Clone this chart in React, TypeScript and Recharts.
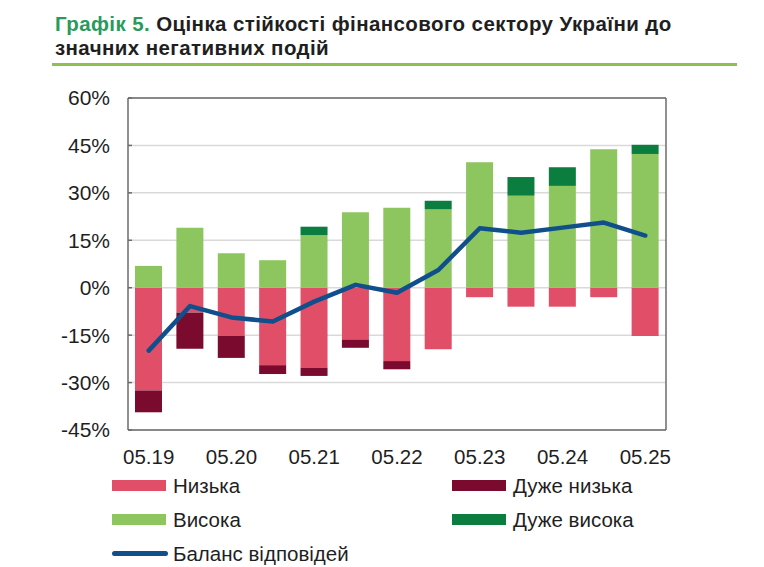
import React from 'react';
import { ComposedChart, Bar, Line, XAxis, YAxis, CartesianGrid, ReferenceLine } from 'recharts';

const categories = ['05.19', '11.19', '05.20', '11.20', '05.21', '11.21', '05.22', '11.22', '05.23', '11.23', '05.24', '11.24', '05.25'];
const low = [-32.5, -7.8, -15.2, -24.5, -25.3, -16.5, -23.2, -19.5, -3.0, -6.0, -6.0, -3.0, -15.3];
const veryLow = [-6.9, -11.5, -7.0, -2.8, -2.6, -2.5, -2.6, 0, 0, 0, 0, 0, 0];
const high = [6.9, 19.0, 10.9, 8.7, 16.6, 23.9, 25.3, 24.8, 39.7, 29.1, 32.2, 43.8, 42.3];
const veryHigh = [0, 0, 0, 0, 2.7, 0, 0, 2.7, 0, 5.9, 5.9, 0, 2.9];
const balance = [-19.9, -5.8, -9.4, -10.7, -4.4, 0.9, -1.6, 5.6, 18.8, 17.4, 19.0, 20.6, 16.5];
const yTicks = [-45, -30, -15, 0, 15, 30, 45, 60];

const seriesNames = {
  low: 'Низька',
  veryLow: 'Дуже низька',
  high: 'Висока',
  veryHigh: 'Дуже висока',
  balance: 'Баланс відповідей',
};

const colors = {
  low: '#e04e68',
  veryLow: '#7b0b2e',
  high: '#8dc65e',
  veryHigh: '#0b7d3f',
  balance: '#0f4f8c',
};

const data = categories.map((c, i) => ({
  cat: c,
  low: low[i],
  veryLow: veryLow[i],
  high: high[i],
  veryHigh: veryHigh[i],
  balance: balance[i],
}));

const FONT = '"Liberation Sans", Arial, sans-serif';
const AXIS = '#6b6b6b';
const TEXT = '#1f1f1f';
const TM = 18;

const LeftTick = (props: any) => {
  const { x, y, payload } = props;
  const ax = x + TM;
  return (
    <g>
      <line x1={ax} x2={ax + 4} y1={y} y2={y} stroke={AXIS} strokeWidth={1.5} />
      <text x={x} y={y} dy="0.355em" textAnchor="end" fontSize={21} fill={TEXT} fontFamily={FONT}>
        {`${payload.value}%`}
      </text>
    </g>
  );
};

const RightTick = (props: any) => {
  const { x, y, payload } = props;
  const ax = x - TM;
  return (
    <g>
      <line x1={ax} x2={ax - 4} y1={y} y2={y} stroke={AXIS} strokeWidth={1.5} />
      <text x={x} y={y} dy="0.355em" textAnchor="start" fontSize={21} fill={TEXT} fontFamily={FONT}>
        {`${payload.value}%`}
      </text>
    </g>
  );
};

const legendItems = [
  { key: 'low', kind: 'rect', col: 0, row: 0 },
  { key: 'veryLow', kind: 'rect', col: 1, row: 0 },
  { key: 'high', kind: 'rect', col: 0, row: 1 },
  { key: 'veryHigh', kind: 'rect', col: 1, row: 1 },
  { key: 'balance', kind: 'line', col: 0, row: 2 },
];

export default function App() {
  return (
    <div style={{ position: 'absolute', left: 0, top: 0, width: 764, height: 567, background: '#fff', fontFamily: FONT }}>
      <div
        style={{
          position: 'absolute',
          left: 55,
          top: 12,
          fontSize: 20.5,
          letterSpacing: 0.4,
          fontWeight: 'bold',
          lineHeight: '23.5px',
          color: TEXT,
          whiteSpace: 'nowrap',
        }}
      >
        <span style={{ color: '#2a9a5c' }}>Графік 5.</span> Оцінка стійкості фінансового сектору України до
        <br />
        значних негативних подій
      </div>
      <div style={{ position: 'absolute', left: 52, top: 63, width: 685, height: 3, background: '#8cc152' }} />
      <div style={{ position: 'absolute', left: 0, top: 0 }}>
        <ComposedChart
          width={764}
          height={480}
          data={data}
          stackOffset="sign"
          margin={{ top: 98, right: 0, left: 0, bottom: 0 }}
        >
          <CartesianGrid vertical={false} stroke="#d9d9d9" strokeWidth={1.5} yAxisId="left" />
          <XAxis
            dataKey="cat"
            interval={1}
            tickLine={false}
            tickSize={0}
            tickMargin={19}
            height={50}
            axisLine={{ stroke: AXIS, strokeWidth: 1.5 }}
            tick={{ fontSize: 20.5, fill: TEXT, fontFamily: FONT }}
          />
          <YAxis
            yAxisId="left"
            width={128}
            domain={[-45, 60]}
            ticks={yTicks}
            interval={0}
            tickLine={false}
            tickSize={0}
            tickMargin={TM}
            axisLine={{ stroke: AXIS, strokeWidth: 1.5 }}
            tick={<LeftTick />}
          />
          <YAxis
            yAxisId="right"
            orientation="right"
            width={98}
            domain={[-45, 60]}
            ticks={yTicks}
            interval={0}
            tickLine={false}
            tickSize={0}
            tickMargin={TM}
            axisLine={{ stroke: AXIS, strokeWidth: 1.5 }}
            tick={<RightTick />}
          />
          <ReferenceLine yAxisId="left" y={60} stroke={AXIS} strokeWidth={1.5} />
          <Bar yAxisId="left" dataKey="low" name={seriesNames.low} stackId="s" fill={colors.low} barSize={27} isAnimationActive={false} />
          <Bar yAxisId="left" dataKey="veryLow" name={seriesNames.veryLow} stackId="s" fill={colors.veryLow} barSize={27} isAnimationActive={false} />
          <Bar yAxisId="left" dataKey="high" name={seriesNames.high} stackId="s" fill={colors.high} barSize={27} isAnimationActive={false} />
          <Bar yAxisId="left" dataKey="veryHigh" name={seriesNames.veryHigh} stackId="s" fill={colors.veryHigh} barSize={27} isAnimationActive={false} />
          <Line
            yAxisId="left"
            type="linear"
            dataKey="balance"
            name={seriesNames.balance}
            stroke={colors.balance}
            strokeWidth={4.5}
            strokeLinejoin="round"
            strokeLinecap="round"
            dot={false}
            activeDot={false}
            isAnimationActive={false}
          />
        </ComposedChart>
      </div>
      {legendItems.map((it) => {
        const left = it.col === 0 ? 112 : 452;
        const cy = 485.5 + it.row * 34;
        const k = it.key as keyof typeof colors;
        return (
          <div key={it.key}>
            {it.kind === 'rect' ? (
              <div style={{ position: 'absolute', left, top: cy - 5.5, width: 54, height: 11, background: colors[k] }} />
            ) : (
              <div style={{ position: 'absolute', left, top: cy - 2.5, width: 56, height: 5, borderRadius: 2.5, background: colors[k] }} />
            )}
            <div
              style={{
                position: 'absolute',
                left: left + 61,
                top: cy - 13,
                fontSize: 20.5,
                lineHeight: '26px',
                color: TEXT,
                whiteSpace: 'nowrap',
              }}
            >
              {seriesNames[k]}
            </div>
          </div>
        );
      })}
    </div>
  );
}
